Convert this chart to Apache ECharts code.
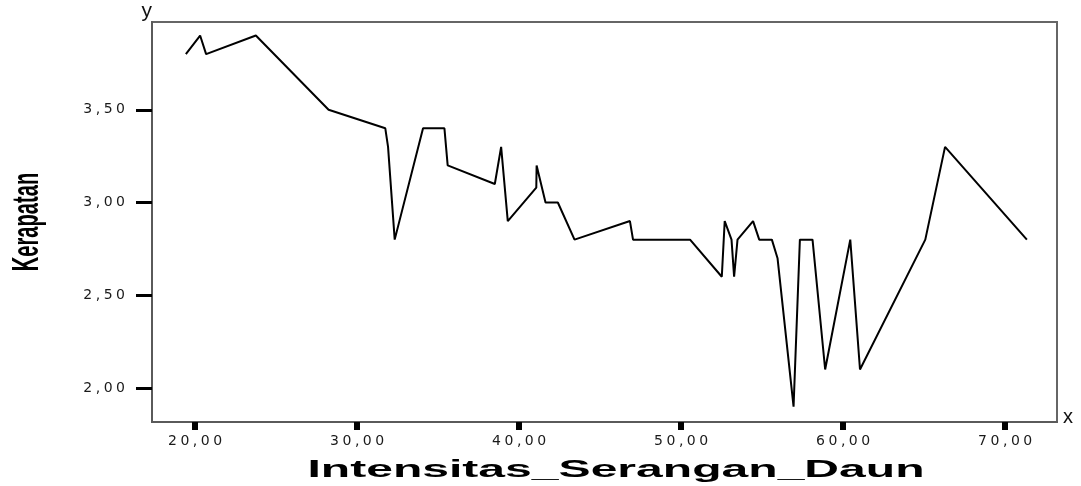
<!DOCTYPE html>
<html>
<head>
<meta charset="utf-8">
<script src="https://cdn.jsdelivr.net/npm/echarts@6/dist/echarts.min.js"></script>
<style>
  html, body { margin: 0; padding: 0; background: #ffffff; }
  #chart { width: 1081px; height: 486px; }
</style>
</head>
<body>
<div id="chart"></div>
<script>
// Intensitas serangan daun (x) vs kerapatan (y), in plotting order
const intensitas = [
  19.43, 20.31, 20.68, 23.75, 28.24, 31.74, 31.91, 32.32, 34.07, 35.39,
  35.59, 38.50, 38.89, 39.30, 41.06, 41.08, 41.63, 42.39, 43.42, 46.84,
  47.03, 50.55, 52.51, 52.69, 53.11, 53.27, 53.48, 54.44, 54.82, 55.60,
  55.95, 56.94, 57.33, 58.11, 58.89, 60.44, 61.04, 65.07, 66.29, 71.34
];
const kerapatan = [
  3.80, 3.90, 3.80, 3.90, 3.50, 3.40, 3.30, 2.80, 3.40, 3.40,
  3.20, 3.10, 3.30, 2.90, 3.08, 3.20, 3.00, 3.00, 2.80, 2.90,
  2.80, 2.80, 2.60, 2.90, 2.80, 2.60, 2.80, 2.90, 2.80, 2.80,
  2.70, 1.90, 2.80, 2.80, 2.10, 2.80, 2.10, 2.80, 3.30, 2.80
];

const xTicks = [20, 30, 40, 50, 60, 70];
const yTicks = [2.0, 2.5, 3.0, 3.5];

// label like "3,50", characters spread a little (the original font is wide)
const fmt = (v) => v.toFixed(2).replace('.', ',').split('').join('\u2005');

const myChart = echarts.init(document.getElementById('chart'));

const option = {
  animation: false,
  backgroundColor: '#ffffff',
  grid: {
    left: 152,
    right: 24,
    top: 22,
    bottom: 64,
    show: true,
    borderColor: '#666',
    borderWidth: 2,
  },
  xAxis: {
    type: 'value',
    min: 17.34,
    max: 73.2,
    name: 'x',
    nameLocation: 'end',
    nameGap: 6,
    nameTextStyle: {
      fontFamily: 'Liberation Sans',
      fontSize: 20,
      color: '#111',
      align: 'left',
      verticalAlign: 'bottom',
      padding: [0, 0, -5, 0],
    },
    axisLine: { lineStyle: { color: '#5a5a5a', width: 2 } },
    axisTick: {
      customValues: xTicks,
      inside: false,
      length: 8,
      lineStyle: { color: '#000', width: 6 },
    },
    axisLabel: {
      customValues: xTicks,
      formatter: fmt,
      margin: 12,
      fontFamily: 'DejaVu Sans',
      fontSize: 14,
      color: '#1a1a1a',
    },
    splitLine: { show: false },
  },
  yAxis: {
    type: 'value',
    min: 1.817,
    max: 3.973,
    name: 'y',
    nameLocation: 'end',
    nameGap: 0,
    nameTextStyle: {
      fontFamily: 'Liberation Sans',
      fontSize: 21,
      color: '#111',
      align: 'right',
      verticalAlign: 'bottom',
    },
    axisLine: { show: true, lineStyle: { color: '#5a5a5a', width: 2 } },
    axisTick: {
      customValues: yTicks,
      inside: false,
      length: 16,
      lineStyle: { color: '#000', width: 3 },
    },
    axisLabel: {
      customValues: yTicks,
      formatter: fmt,
      margin: 27,
      fontFamily: 'DejaVu Sans',
      fontSize: 14,
      color: '#1a1a1a',
    },
    splitLine: { show: false },
  },
  graphic: [
    {
      type: 'text',
      x: 28,
      y: 222,
      rotation: Math.PI / 2,
      scaleX: 0.56,
      style: {
        text: 'Kerapatan',
        fontFamily: 'Liberation Sans',
        fontWeight: 'bold',
        fontSize: 36,
        fill: '#000',
        textAlign: 'center',
        textVerticalAlign: 'middle',
      },
    },
    {
      type: 'text',
      x: 616,
      y: 471,
      scaleX: 2.09,
      style: {
        text: 'Intensitas_Serangan_Daun',
        fontFamily: 'Liberation Sans',
        fontWeight: 'bold',
        fontSize: 23,
        fill: '#000',
        textAlign: 'center',
        textVerticalAlign: 'middle',
      },
    },
  ],
  series: [
    {
      type: 'line',
      data: intensitas.map((x, i) => [x, kerapatan[i]]),
      symbol: 'none',
      lineStyle: { color: '#000', width: 2 },
    },
  ],
};

myChart.setOption(option);
window.addEventListener('resize', () => myChart.resize());
</script>
</body>
</html>
